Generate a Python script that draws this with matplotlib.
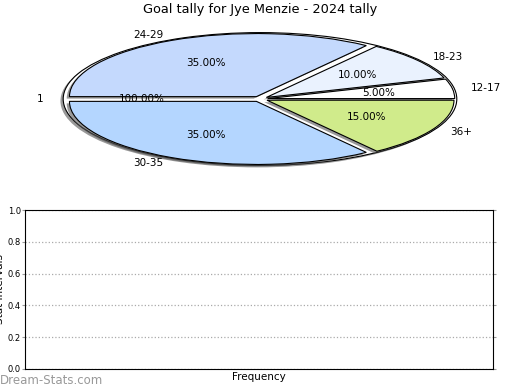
import matplotlib
matplotlib.use("Agg")
import matplotlib.pyplot as plt

title = "Goal tally for Jye Menzie - 2024 tally"
bg_labels = ["1"]
bg_values = [1]
labels = ["12-17", "18-23", "24-29", "30-35", "36+"]
values = [5, 10, 35, 35, 15]
colors = ["#ffffff", "#eaf2fe", "#c4d9fd", "#b4d6ff", "#d0eb8b"]
explode = [0.04, 0.04, 0.04, 0.04, 0.04]
yticks = [0.0, 0.2, 0.4, 0.6, 0.8, 1.0]

fig = plt.figure(figsize=(5.2, 3.9), dpi=100)

ax1 = fig.add_axes([14/520, (390-182)/390, 492/520, 166/390])
wp = {"edgecolor": "black", "linewidth": 0.8}
shadow_wp = {"linewidth": 0, "alpha": 0.6}
shadow_off = (-0.014, -0.03)
# shadows
ax1.pie(bg_values, colors=["#555555"], center=shadow_off, radius=1.0,
        wedgeprops=shadow_wp)
ax1.pie(bg_values, labels=bg_labels, colors=["white"], autopct="%1.2f%%",
        wedgeprops=wp, textprops={"fontsize": 7.5}, radius=1.0)
ax1.pie(values, colors=["#555555"] * len(values), explode=explode,
        center=shadow_off, radius=0.95, wedgeprops=shadow_wp)
ax1.pie(values, labels=labels, colors=colors, explode=explode, autopct="%1.2f%%",
        wedgeprops=wp, textprops={"fontsize": 7.5}, radius=0.95)
ax1.set_aspect("auto")
ax1.set_xlim(-1.25, 1.25)
ax1.set_ylim(-1.25, 1.25)
fig.text(0.5, 1 - 10/390, title, ha="center", va="center", fontsize=9.3)

ax2 = fig.add_axes([25/520, 21/390, 468/520, 159/390])
ax2.set_ylim(0, 1)
ax2.set_yticks(yticks)
ax2.set_xticks([])
ax2.tick_params(axis="y", labelsize=6, length=2, color="#999999", right=True, pad=1)
ax2.yaxis.grid(True, linestyle=":", color="#aaaaaa", linewidth=0.9)
ax2.set_xlabel("Frequency", fontsize=7.5, labelpad=2)
ax2.set_ylabel("Stat Intervals", fontsize=7.5, labelpad=2)
fig.text(0.0, 1 - 380/390, "Dream-Stats.com", ha="left", va="center",
         fontsize=8.5, color="#999999")

fig.savefig("out.png", dpi=100)
